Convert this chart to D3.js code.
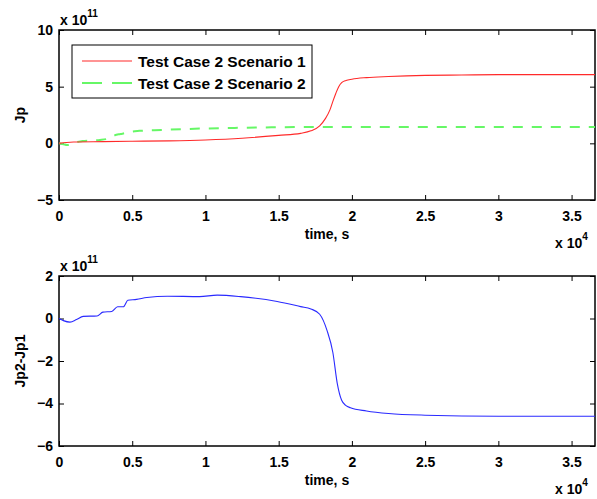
<!DOCTYPE html>
<html>
<head>
<meta charset="utf-8">
<script src="https://cdn.jsdelivr.net/npm/d3@7"></script>
<style>
  body { margin: 0; background: #fff; }
  svg text { font-family: "Liberation Sans", Arial, sans-serif; font-weight: bold; }
</style>
</head>
<body>
<div id="wrapper"></div>
<script>
// time in units of 1e4 s, values in units of 1e11
const tScen1 = [0, 0.05, 0.1, 0.3, 0.5, 0.75, 1.0, 1.25, 1.5, 1.65, 1.72, 1.78, 1.82, 1.85, 1.87, 1.89, 1.91, 1.93, 1.96, 2.0, 2.1, 2.25, 2.5, 2.75, 3.0, 3.3, 3.66]
const jpScen1 = [0, 0.08, 0.12, 0.15, 0.18, 0.22, 0.3, 0.45, 0.7, 0.88, 1.1, 1.55, 2.2, 2.95, 3.7, 4.4, 5.0, 5.35, 5.55, 5.66, 5.8, 5.9, 6.0, 6.03, 6.06, 6.06, 6.06]

const tScen2 = [0, 0.03, 0.055, 0.09, 0.12, 0.16, 0.21, 0.28, 0.33, 0.36, 0.38, 0.42, 0.45, 0.48, 0.55, 0.7, 0.96, 1.2, 1.45, 1.65, 2.0, 2.5, 3.0, 3.66]
const jpScen2 = [0, -0.08, -0.15, -0.08, 0.1, 0.2, 0.25, 0.3, 0.4, 0.55, 0.7, 0.82, 0.9, 1.0, 1.1, 1.18, 1.3, 1.36, 1.41, 1.44, 1.45, 1.45, 1.45, 1.45]

const tDiff = [0, 0.03, 0.075, 0.12, 0.165, 0.26, 0.3, 0.36, 0.4, 0.44, 0.47, 0.53, 0.6, 0.74, 0.96, 1.08, 1.24, 1.49, 1.65, 1.72, 1.78, 1.83, 1.87, 1.9, 1.93, 1.96, 1.99, 2.1, 2.25, 2.5, 3.0, 3.66]
const jpDiff = [0, -0.1, -0.17, -0.05, 0.1, 0.12, 0.3, 0.33, 0.55, 0.55, 0.86, 0.9, 0.99, 1.05, 1.03, 1.1, 1.03, 0.8, 0.56, 0.45, 0.2, -0.56, -1.6, -3.05, -3.85, -4.1, -4.2, -4.35, -4.47, -4.55, -4.6, -4.6]

const xTicks = [0, 0.5, 1, 1.5, 2, 2.5, 3, 3.5]
const yTicksTop = [-5, 0, 5, 10]
const yTicksBottom = [-6, -4, -2, 0, 2]
const legendLabels = ["Test Case 2 Scenario 1", "Test Case 2 Scenario 2"]

const width = 597
const height = 499

const svg = d3.select("#wrapper")
  .append("svg")
    .attr("width", width)
    .attr("height", height)

const xScale = d3.scaleLinear()
    .domain([0, 3.66])
    .range([59, 595])

const drawPanel = (top, bottom, yDomain, yTicks, yLabel) => {
  const yScale = d3.scaleLinear()
      .domain(yDomain)
      .range([bottom, top])

  const g = svg.append("g")

  // inward ticks on all four sides
  g.append("g")
      .attr("transform", `translate(0,${bottom})`)
      .call(d3.axisBottom(xScale).tickValues(xTicks).tickSize(-5).tickPadding(11).tickFormat(d3.format("")))
  g.append("g")
      .attr("transform", `translate(0,${top})`)
      .call(d3.axisTop(xScale).tickValues(xTicks).tickSize(-5).tickFormat(""))
  g.append("g")
      .attr("transform", `translate(59,0)`)
      .call(d3.axisLeft(yScale).tickValues(yTicks).tickSize(-5).tickPadding(6))
  g.append("g")
      .attr("transform", `translate(595,0)`)
      .call(d3.axisRight(yScale).tickValues(yTicks).tickSize(-5).tickFormat(""))

  g.selectAll(".domain").remove()
  g.selectAll(".tick line").attr("stroke", "#000").attr("stroke-width", 1)
  g.selectAll(".tick text")
      .attr("fill", "#000")
      .style("font-size", "14px")

  g.append("rect")
      .attr("x", 59)
      .attr("y", top)
      .attr("width", 595 - 59)
      .attr("height", bottom - top)
      .attr("fill", "none")
      .attr("stroke", "#000")
      .attr("stroke-width", 1.5)

  // exponent labels
  const expY = g.append("text")
      .attr("x", 60)
      .attr("y", top - 5)
      .style("font-size", "14px")
  expY.append("tspan").text("x 10")
  expY.append("tspan").attr("dy", -8).style("font-size", "10px").text("11")

  const expX = g.append("text")
      .attr("x", 555)
      .attr("y", bottom + 48)
      .style("font-size", "14px")
  expX.append("tspan").text("x 10")
  expX.append("tspan").attr("dy", -8).style("font-size", "10px").text("4")

  g.append("text")
      .attr("x", 327)
      .attr("y", bottom + 39)
      .attr("text-anchor", "middle")
      .style("font-size", "14px")
      .text("time, s")

  g.append("text")
      .attr("transform", `translate(25,${(top + bottom) / 2}) rotate(-90)`)
      .attr("text-anchor", "middle")
      .style("font-size", "14px")
      .text(yLabel)

  return {g, yScale}
}

const topPanel = drawPanel(30, 200, [-5, 10], yTicksTop, "Jp")
const bottomPanel = drawPanel(276, 446, [-6, 2], yTicksBottom, "Jp2-Jp1")

const makeLine = (ts, vs, yScale) => d3.line()
    .x((d, i) => xScale(ts[i]))
    .y(d => yScale(d))
    .curve(d3.curveMonotoneX)(vs)

topPanel.g.append("path")
    .attr("d", makeLine(tScen2, jpScen2, topPanel.yScale))
    .attr("fill", "none")
    .attr("stroke", "#66f766")
    .attr("stroke-width", 2)
    .attr("stroke-dasharray", "10,9")

topPanel.g.append("path")
    .attr("d", makeLine(tScen1, jpScen1, topPanel.yScale))
    .attr("fill", "none")
    .attr("stroke", "#ff2a2a")
    .attr("stroke-width", 1.1)

bottomPanel.g.append("path")
    .attr("d", makeLine(tDiff, jpDiff, bottomPanel.yScale))
    .attr("fill", "none")
    .attr("stroke", "#2a2aff")
    .attr("stroke-width", 1.1)

// legend
const legend = topPanel.g.append("g")
legend.append("rect")
    .attr("x", 72)
    .attr("y", 45)
    .attr("width", 240)
    .attr("height", 53)
    .attr("fill", "#fff")
    .attr("stroke", "#000")
    .attr("stroke-width", 1)

const legendStyles = [
  {color: "#ff2a2a", width: 1.1, dash: null},
  {color: "#66f766", width: 2, dash: "20,10"},
]
legendLabels.forEach((label, i) => {
  const y = 61 + i * 22
  legend.append("line")
      .attr("x1", 82)
      .attr("x2", 132)
      .attr("y1", y)
      .attr("y2", y)
      .attr("stroke", legendStyles[i].color)
      .attr("stroke-width", legendStyles[i].width)
      .attr("stroke-dasharray", legendStyles[i].dash)
  legend.append("text")
      .attr("x", 138)
      .attr("y", y + 5.5)
      .style("font-size", "15.5px")
      .text(label)
})
</script>
</body>
</html>
